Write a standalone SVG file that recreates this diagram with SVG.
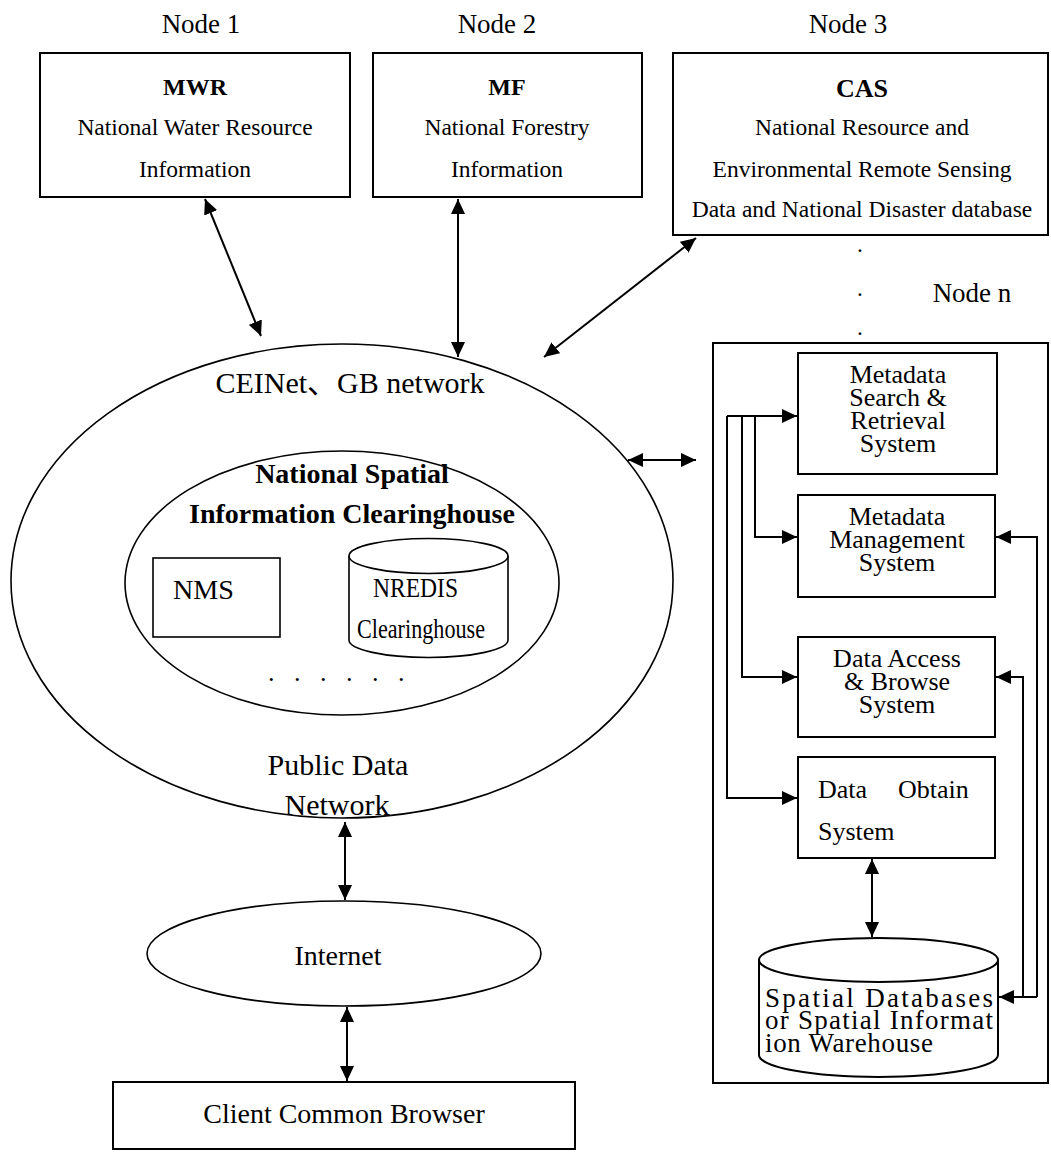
<svg xmlns="http://www.w3.org/2000/svg" width="1051" height="1152" viewBox="0 0 1051 1152" font-family="'Liberation Serif','Times New Roman','Noto Sans CJK SC',serif">
<defs>
<marker id="ah" markerUnits="userSpaceOnUse" markerWidth="16" markerHeight="14" refX="15" refY="7" orient="auto-start-reverse" viewBox="0 0 16 14">
<path d="M0,0 L15,7 L0,14 z" fill="#000"/>
</marker>
</defs>
<style>
text{font-family:"Liberation Serif","Times New Roman","Noto Sans CJK SC",serif;fill:#000}
.box{fill:#fff;stroke:#000;stroke-width:2}
.el{fill:none;stroke:#000;stroke-width:1.6}
.t{font-size:23.5px;text-anchor:middle}
.b{font-weight:bold;text-anchor:middle}
.nl{font-size:27px;text-anchor:middle}
.rp{font-size:26px;text-anchor:middle}
.c{fill:none;stroke:#000;stroke-width:2}
.ca{fill:none;stroke:#000;stroke-width:2;marker-end:url(#ah)}
.cd{fill:none;stroke:#000;stroke-width:2;marker-start:url(#ah);marker-end:url(#ah)}
</style>
<rect width="1051" height="1152" fill="#fff"/>

<text class="nl" x="201" y="33">Node 1</text>
<text class="nl" x="497" y="33">Node 2</text>
<text class="nl" x="848" y="33">Node 3</text>

<g id="node-mwr">
<rect class="box" x="40" y="53" width="310" height="144"/>
<text class="b" x="195" y="95" font-size="24">MWR</text>
<text class="t" x="195" y="135">National Water Resource</text>
<text class="t" x="195" y="177">Information</text>
</g>

<g id="node-mf">
<rect class="box" x="373" y="53" width="269" height="144"/>
<text class="b" x="507" y="95" font-size="24">MF</text>
<text class="t" x="507" y="135">National Forestry</text>
<text class="t" x="507" y="177">Information</text>
</g>

<g id="node-cas">
<rect class="box" x="673" y="53" width="375" height="182"/>
<text class="b" x="862" y="97" font-size="26">CAS</text>
<text class="t" x="862" y="135">National Resource and</text>
<text class="t" x="862" y="177">Environmental Remote Sensing</text>
<text class="t" x="862" y="217">Data and National Disaster database</text>
</g>

<g id="node-n-label">
<text class="t" x="860" y="252">.</text>
<text class="t" x="860" y="302">·</text>
<text class="nl" x="972" y="302">Node n</text>
<text class="t" x="860" y="335">.</text>
</g>

<g id="node-network">
<ellipse class="el" cx="342" cy="581" rx="331" ry="237"/>
<text x="350" y="393" font-size="30" text-anchor="middle">CEINet、GB network</text>
<text x="338" y="775" font-size="30" text-anchor="middle">Public Data</text>
<text x="337" y="815" font-size="30" text-anchor="middle">Network</text>
</g>

<g id="node-clearinghouse">
<ellipse class="el" cx="342" cy="583" rx="217" ry="132"/>
<text class="b" x="352" y="483" font-size="28">National Spatial</text>
<text class="b" x="352" y="523" font-size="28">Information Clearinghouse</text>
<text x="268 294 320 346 372 398" y="681" font-size="26">......</text>
</g>

<g id="node-nms">
<rect x="153" y="558" width="127" height="79" fill="#fff" stroke="#000" stroke-width="1.6"/>
<text x="173" y="599" font-size="27" textLength="61" lengthAdjust="spacingAndGlyphs">NMS</text>
</g>

<g id="node-nredis">
<path d="M349,556 V640 A79.5,17.5 0 0 0 508,640 V556" fill="#fff" stroke="#000" stroke-width="1.6"/>
<ellipse cx="428.5" cy="556" rx="79.5" ry="17.5" fill="#fff" stroke="#000" stroke-width="1.6"/>
<text x="373" y="597" font-size="27" textLength="85" lengthAdjust="spacingAndGlyphs">NREDIS</text>
<text x="357" y="638" font-size="27" textLength="128" lengthAdjust="spacingAndGlyphs">Clearinghouse</text>
</g>

<g id="node-internet">
<ellipse class="el" cx="344" cy="953.5" rx="197" ry="52.5"/>
<text x="338" y="965" font-size="28" text-anchor="middle">Internet</text>
</g>

<g id="node-browser">
<rect class="box" x="113" y="1082" width="462" height="67"/>
<text x="344" y="1123" font-size="28" text-anchor="middle">Client Common Browser</text>
</g>

<g id="node-panel">
<rect class="box" x="713" y="343" width="335" height="740" stroke-width="1.6"/>
</g>

<g id="node-msr">
<rect class="box" x="798" y="353" width="199" height="121"/>
<text class="rp" x="898" y="383">Metadata</text>
<text class="rp" x="898" y="406">Search &amp;</text>
<text class="rp" x="898" y="429">Retrieval</text>
<text class="rp" x="898" y="452">System</text>
</g>

<g id="node-mms">
<rect class="box" x="798" y="495" width="197" height="102"/>
<text class="rp" x="897" y="525">Metadata</text>
<text class="rp" x="897" y="548">Management</text>
<text class="rp" x="897" y="571">System</text>
</g>

<g id="node-dab">
<rect class="box" x="798" y="637" width="197" height="100"/>
<text class="rp" x="897" y="667">Data Access</text>
<text class="rp" x="897" y="690">&amp; Browse</text>
<text class="rp" x="897" y="713">System</text>
</g>

<g id="node-dos">
<rect class="box" x="798" y="757" width="197" height="101"/>
<text x="818" y="798" font-size="26">Data</text>
<text x="898" y="798" font-size="26">Obtain</text>
<text x="818" y="840" font-size="26">System</text>
</g>

<g id="node-sdb">
<path d="M759,960 V1055 A119.5,22 0 0 0 998,1055 V960" fill="#fff" stroke="#000" stroke-width="2"/>
<ellipse cx="878.5" cy="960" rx="119.5" ry="22" fill="#fff" stroke="#000" stroke-width="2"/>
<text x="765" y="1007" font-size="27" textLength="228" lengthAdjust="spacing">Spatial Databases</text>
<text x="765" y="1029" font-size="27" textLength="228" lengthAdjust="spacing">or Spatial Informat</text>
<text x="765" y="1052" font-size="27" textLength="168" lengthAdjust="spacing">ion Warehouse</text>
</g>

<g id="connectors">
<path class="cd" d="M205,199 L261,336"/>
<path class="cd" d="M458,199 V357"/>
<path class="cd" d="M696,238 L544,357"/>
<path class="cd" d="M628,460 H696"/>
<path class="cd" d="M345,822 V900"/>
<path class="cd" d="M347,1007 V1081"/>
<path class="ca" d="M727,416 H797"/>
<path class="ca" d="M727,416 V798 H797"/>
<path class="ca" d="M742,416 V677 H797"/>
<path class="ca" d="M755,416 V537 H797"/>
<path class="ca" d="M1037,997 V537 H996"/>
<path class="ca" d="M1023,997 V677 H996"/>
<path class="ca" d="M1037,997 H999"/>
<path class="cd" d="M872,859 V937"/>
</g>
</svg>
